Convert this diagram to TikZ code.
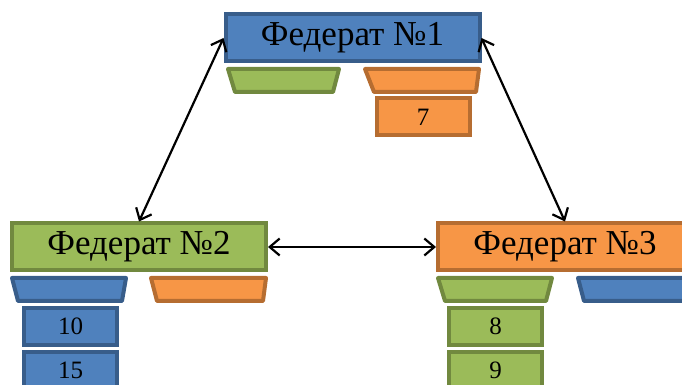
\documentclass[tikz,border=0pt]{standalone}
\usepackage{fontspec}
\setmainfont{Liberation Serif}
\usetikzlibrary{arrows.meta}
\definecolor{bluefill}{HTML}{4F81BD}
\definecolor{blueline}{HTML}{385D8A}
\definecolor{greenfill}{HTML}{9BBB59}
\definecolor{greenline}{HTML}{71893F}
\definecolor{orangefill}{HTML}{F79646}
\definecolor{orangeline}{HTML}{B66D31}
\tikzset{
  fed/.style={rectangle, line width=4pt, minimum width=254pt, minimum height=47pt,
    inner sep=0pt, font=\fontsize{35}{35}\selectfont},
  num/.style={rectangle, line width=4pt, minimum width=93pt, minimum height=37pt,
    inner sep=0pt, font=\fontsize{25}{25}\selectfont},
  bluebox/.style={fill=bluefill, draw=blueline},
  greenbox/.style={fill=greenfill, draw=greenline},
  orangebox/.style={fill=orangefill, draw=orangeline},
  tray/.style={line width=4pt, line join=round},
  link/.style={line width=2.2pt, {Straight Barb[length=10pt,width=17pt]}-{Straight Barb[length=10pt,width=17pt]}}
}
\begin{document}
\begin{tikzpicture}[x=1pt,y=1pt]
\useasboundingbox (0,0) rectangle (682,385);

% federates
\node[fed, bluebox]   (f1) at (352.5,347) {Федерат №1};
\node[fed, greenbox]  (f2) at (139,138) {Федерат №2};
\node[fed, orangebox] (f3) at (565,138) {Федерат №3};

% trays under federate 1
\draw[tray, greenbox]  (228,316) -- (339,316) -- (333,293) -- (235,293) -- cycle;
\draw[tray, orangebox] (365,316) -- (479,316) -- (476,293) -- (374,293) -- cycle;
\node[num, orangebox] (n7) at (423,268) {7};

% trays under federate 2
\draw[tray, bluebox]   (12,107) -- (126,107) -- (122,84) -- (18,84) -- cycle;
\draw[tray, orangebox] (151,107) -- (266,107) -- (263,84) -- (157,84) -- cycle;
\node[num, bluebox] (n10) at (70.5,58.5) {10};
\node[num, bluebox] (n15) at (70.5,14.5) {15};

% trays under federate 3
\draw[tray, greenbox] (438,107) -- (552,107) -- (546,84) -- (445,84) -- cycle;
\draw[tray, bluebox]  (578,107) -- (700,107) -- (700,84) -- (584,84) -- cycle;
\node[num, greenbox] (n8) at (495.5,58.5) {8};
\node[num, greenbox] (n9) at (495.5,14.5) {9};

% links between federates
\draw[link] (f1.west) -- (f2.north);
\draw[link] (f1.east) -- (f3.north);
\draw[link] (f2.east) -- (f3.west);
\end{tikzpicture}
\end{document}
